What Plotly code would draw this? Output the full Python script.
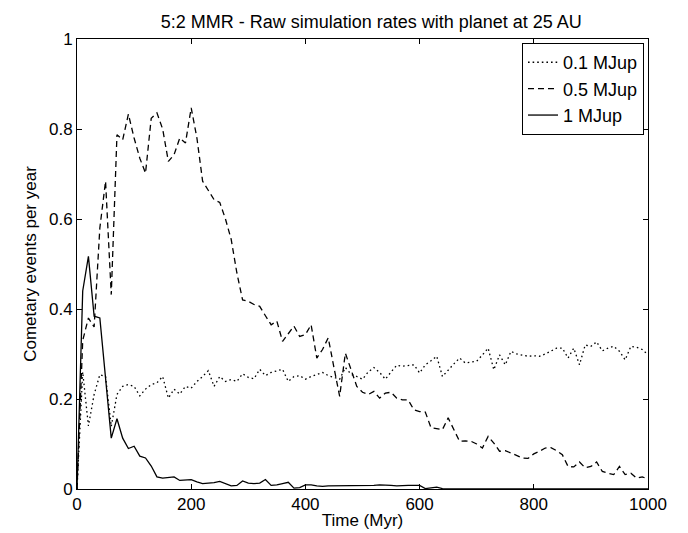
import plotly.graph_objects as go

time_myr = list(range(0, 1001, 10))

rate_01 = [0.0, 0.26, 0.14, 0.21, 0.254, 0.25, 0.139, 0.21, 0.228, 0.232,
           0.228, 0.207, 0.222, 0.232, 0.236, 0.25, 0.202, 0.222, 0.211, 0.228,
           0.224, 0.239, 0.25, 0.263, 0.228, 0.25, 0.239, 0.243, 0.239, 0.256,
           0.248, 0.245, 0.266, 0.252, 0.259, 0.262, 0.266, 0.239, 0.25, 0.252,
           0.244, 0.25, 0.255, 0.259, 0.252, 0.248, 0.244, 0.27, 0.255, 0.25,
           0.244, 0.26, 0.27, 0.259, 0.244, 0.26, 0.275, 0.273, 0.274, 0.276,
           0.258, 0.276, 0.285, 0.295, 0.25, 0.265, 0.278, 0.291, 0.28, 0.282,
           0.284, 0.298, 0.313, 0.265, 0.298, 0.276, 0.306, 0.3, 0.298, 0.295,
           0.296, 0.295, 0.3, 0.306, 0.313, 0.313, 0.291, 0.313, 0.276, 0.32,
           0.317, 0.327, 0.307, 0.313, 0.317, 0.306, 0.287, 0.317, 0.315, 0.31,
           0.298]

rate_05 = [0.0, 0.33, 0.38, 0.36, 0.58, 0.684, 0.432, 0.787, 0.776, 0.833,
           0.78, 0.735, 0.702, 0.824, 0.836, 0.80, 0.728, 0.743, 0.78, 0.769,
           0.847, 0.78, 0.684, 0.665, 0.643, 0.637, 0.60, 0.555, 0.48, 0.42,
           0.417, 0.41, 0.406, 0.385, 0.365, 0.373, 0.328, 0.345, 0.362, 0.339,
           0.343, 0.365, 0.291, 0.31, 0.336, 0.27, 0.206, 0.302, 0.265, 0.228,
           0.215, 0.21, 0.217, 0.202, 0.213, 0.215, 0.202, 0.198, 0.198, 0.176,
           0.172, 0.171, 0.136, 0.134, 0.132, 0.158, 0.13, 0.106, 0.107, 0.106,
           0.1, 0.091, 0.117, 0.102, 0.084, 0.085, 0.08, 0.075, 0.069, 0.068,
           0.078, 0.084, 0.091, 0.092, 0.085, 0.076, 0.05, 0.049, 0.06, 0.047,
           0.05, 0.06, 0.039, 0.035, 0.032, 0.05, 0.032, 0.035, 0.024, 0.027,
           0.022]

rate_1 = [0.0, 0.44, 0.517, 0.384, 0.38, 0.25, 0.113, 0.156, 0.113, 0.09,
          0.095, 0.073, 0.069, 0.051, 0.027, 0.024, 0.026, 0.027, 0.019, 0.020,
          0.021, 0.016, 0.012, 0.013, 0.014, 0.017, 0.012, 0.007, 0.008, 0.018,
          0.013, 0.012, 0.013, 0.021, 0.008, 0.009, 0.012, 0.015, 0.002, 0.003,
          0.009, 0.009, 0.007, 0.006, 0.007, 0.007, 0.007, 0.007, 0.008, 0.007,
          0.007, 0.008, 0.008, 0.009, 0.009, 0.008, 0.007, 0.008, 0.008, 0.008,
          0.008, 0.001, 0.003, 0.004, 0.001] + [0.0] * 36

series_names = ["0.1 MJup", "0.5 MJup", "1 MJup"]
x_ticks = [0, 200, 400, 600, 800, 1000]
y_ticks = [0, 0.2, 0.4, 0.6, 0.8, 1]

font_family = "Liberation Sans, Arial, sans-serif"

fig = go.Figure()
for name, vals, dash in zip(series_names, [rate_01, rate_05, rate_1],
                            ["1.6px,3px", "6px,4px", "solid"]):
    fig.add_trace(go.Scatter(x=time_myr, y=vals, mode="lines", name=name,
                             line=dict(color="black", width=1.3, dash=dash)))

axis_common = dict(showline=True, linecolor="black", linewidth=1, mirror="ticks",
                   ticks="inside", ticklen=5, tickcolor="black", showgrid=False,
                   zeroline=False, automargin=False,
                   tickfont=dict(size=17, color="black", family=font_family))

fig.update_layout(
    template="none",
    width=688, height=533,
    margin=dict(l=69, r=48, t=31, b=52),
    paper_bgcolor="white", plot_bgcolor="white",
    font=dict(family=font_family, color="black", size=17),
    title=dict(text="5:2 MMR - Raw simulation rates with planet at 25 AU",
               x=(69 + 640) / 2 / 688, xref="paper", xanchor="center",
               y=1 - 14 / 533, yref="container", yanchor="middle",
               font=dict(size=18, color="black")),
    xaxis=dict(range=[0, 1000], tickvals=x_ticks,
               title=dict(text="Time (Myr)", font=dict(size=17), standoff=0), **axis_common),
    yaxis=dict(range=[0, 1], tickvals=y_ticks,
               title=dict(text="Cometary events per year", font=dict(size=17), standoff=8), **axis_common),
    legend=dict(x=0.993, y=0.991, xanchor="right", yanchor="top",
                bordercolor="black", borderwidth=1, bgcolor="white",
                font=dict(size=18, color="black"), tracegroupgap=0),
    showlegend=True,
)

fig.write_html("out.html")
